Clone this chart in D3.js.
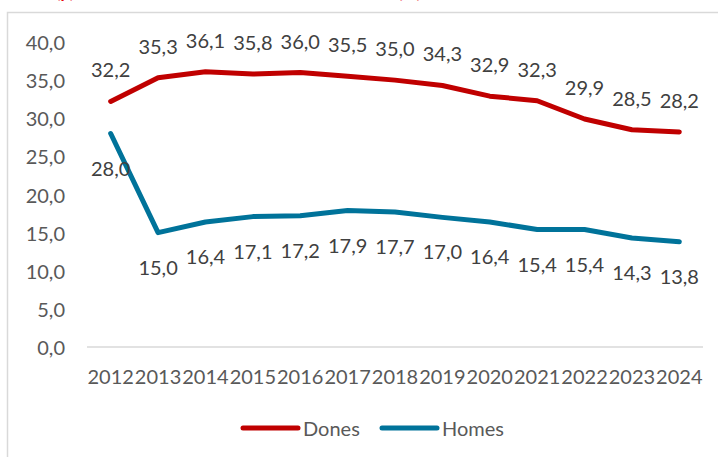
<!DOCTYPE html>
<html>
<head>
<meta charset="utf-8">
<script src="https://cdn.jsdelivr.net/npm/d3@7"></script>
<style>
  body { margin: 0; background: #fff; }
  svg { display: block; font-family: Lato, "Open Sans", sans-serif; }
</style>
</head>
<body>
<svg width="718" height="457"></svg>
<script>
// chart data
var years = ["2012","2013","2014","2015","2016","2017","2018","2019","2020","2021","2022","2023","2024"];
var dones = [32.2, 35.3, 36.1, 35.8, 36.0, 35.5, 35.0, 34.3, 32.9, 32.3, 29.9, 28.5, 28.2];
var homes = [28.0, 15.0, 16.4, 17.1, 17.2, 17.9, 17.7, 17.0, 16.4, 15.4, 15.4, 14.3, 13.8];
var yTicks = [0, 5, 10, 15, 20, 25, 30, 35, 40];

var series = [
    { name: "Dones", values: dones, color: "#c00000", labelDy: -32 },
    { name: "Homes", values: homes, color: "#00739a", labelDy: 34 }
];

var svg = d3.select("svg");
var textColor = "#595959";
var fontSize = 20;
var fmt = function (v) { return d3.format(".1f")(v).replace(".", ","); };

// title (cut off at the top of the picture, only descenders show)
svg.append("text").attr("x", 56).attr("y", -2)
    .attr("fill", "#e8000b").attr("font-weight", "bold").attr("font-size", 17)
    .text("(p)");
svg.append("text").attr("x", 398).attr("y", -2)
    .attr("fill", "#e8000b").attr("font-weight", "bold").attr("font-size", 17)
    .text("(%)");

// chart area border
svg.append("path")
    .attr("d", "M7.5,457 V12.5 H718")
    .attr("fill", "none").attr("stroke", "#d9d9d9").attr("stroke-width", 1.5);

var x = d3.scaleBand().domain(years).range([87, 703]).padding(0);
var y = d3.scaleLinear().domain([0, 40]).range([347, 42]);
var cx = function (d, i) { return x(years[i]) + x.bandwidth() / 2; };

// y labels
svg.append("g").selectAll("text")
    .data(yTicks).enter().append("text")
    .attr("x", 65).attr("y", function (d) { return y(d); })
    .attr("text-anchor", "end").attr("dominant-baseline", "central")
    .attr("fill", textColor).attr("font-size", fontSize)
    .text(fmt);

// x axis line
svg.append("line")
    .attr("x1", 87).attr("x2", 703).attr("y1", y(0)).attr("y2", y(0))
    .attr("stroke", "#d9d9d9").attr("stroke-width", 1.5);

// x labels
svg.append("g").selectAll("text")
    .data(years).enter().append("text")
    .attr("x", function (d) { return x(d) + x.bandwidth() / 2; })
    .attr("y", 376)
    .attr("text-anchor", "middle").attr("dominant-baseline", "central")
    .attr("fill", textColor).attr("font-size", fontSize)
    .text(function (d) { return d; });

// lines
var line = d3.line().x(cx).y(function (d) { return y(d); });

series.forEach(function (s) {
    svg.append("path")
        .datum(s.values)
        .attr("d", line)
        .attr("fill", "none")
        .attr("stroke", s.color)
        .attr("stroke-width", 5)
        .attr("stroke-linecap", "round")
        .attr("stroke-linejoin", "round");

    svg.append("g").selectAll("text")
        .data(s.values).enter().append("text")
        .attr("x", cx)
        .attr("y", function (d) { return y(d) + s.labelDy; })
        .attr("text-anchor", "middle").attr("dominant-baseline", "central")
        .attr("fill", "#404040").attr("font-size", fontSize)
        .text(fmt);
});

// legend
var legend = svg.append("g").selectAll("g")
    .data(series).enter().append("g")
    .attr("transform", function (d, i) { return "translate(" + (243 + i * 139) + ",428)"; });

legend.append("line")
    .attr("x1", 0).attr("x2", 55)
    .attr("stroke", function (d) { return d.color; })
    .attr("stroke-width", 5).attr("stroke-linecap", "round");

legend.append("text")
    .attr("x", 60).attr("dominant-baseline", "central")
    .attr("fill", textColor).attr("font-size", fontSize)
    .text(function (d) { return d.name; });
</script>
</body>
</html>
